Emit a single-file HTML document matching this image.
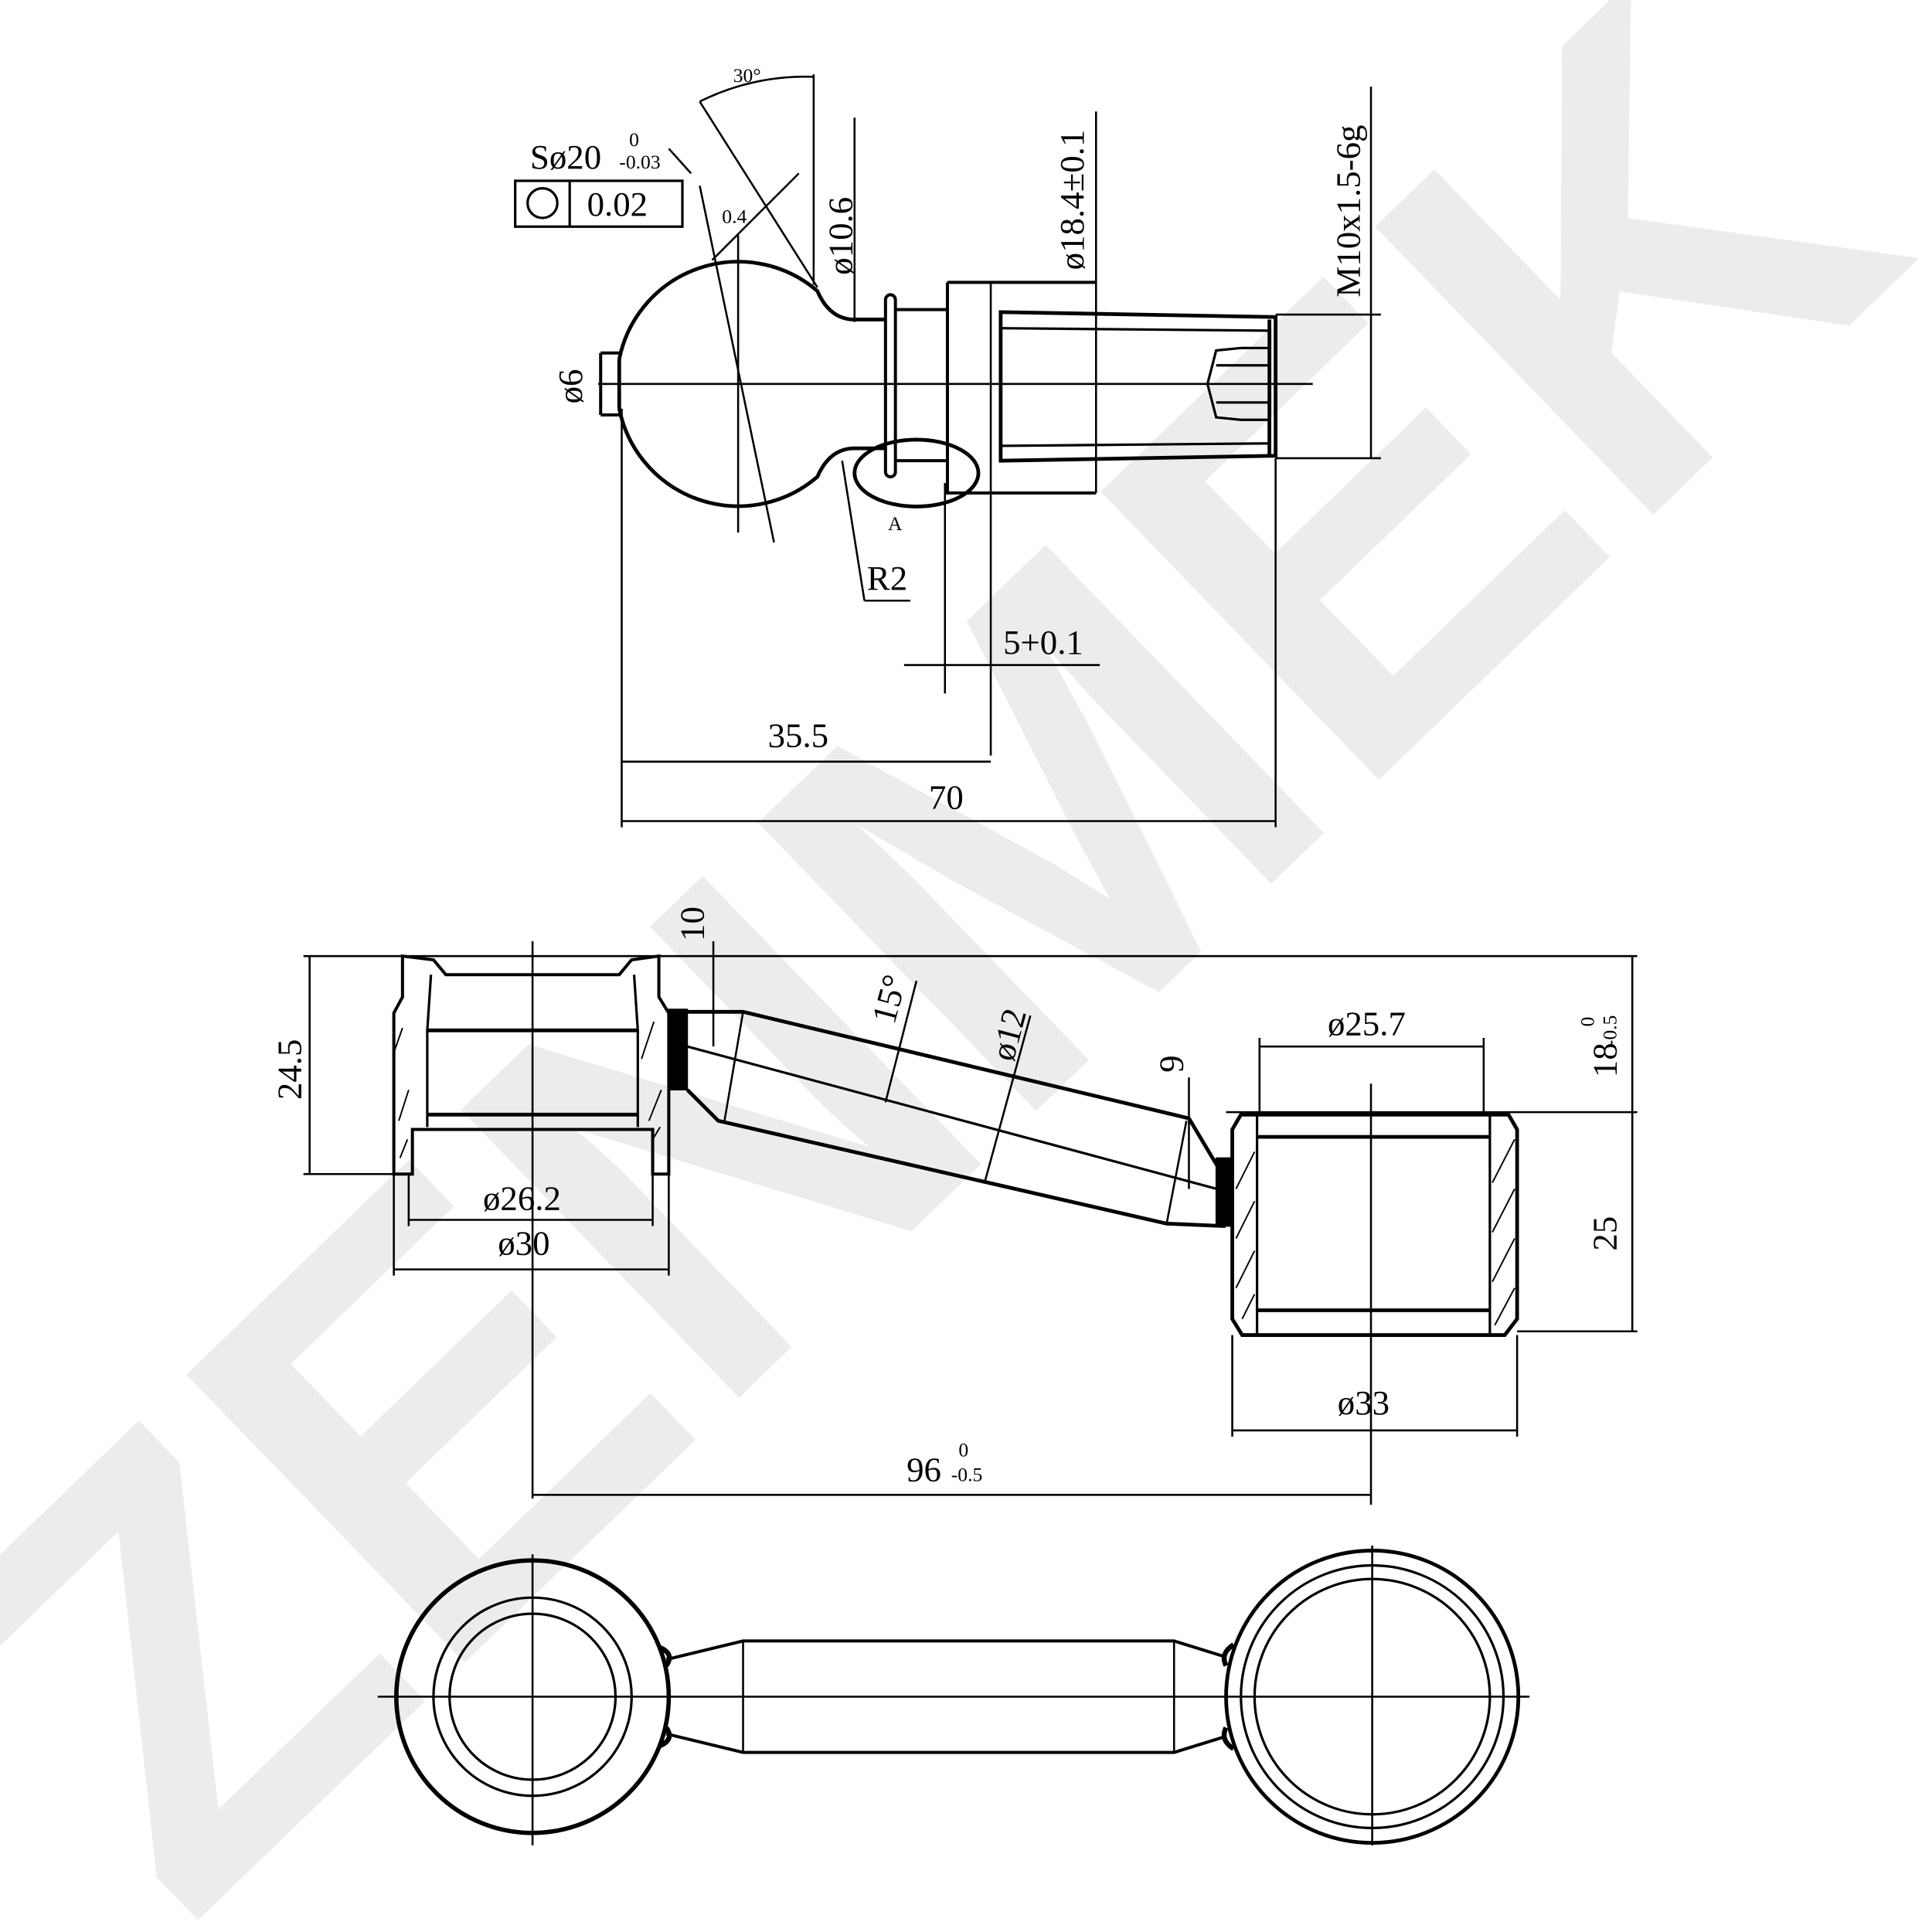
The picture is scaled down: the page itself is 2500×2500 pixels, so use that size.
<!DOCTYPE html>
<html><head><meta charset="utf-8"><style>html,body{margin:0;padding:0;background:#fff}svg{display:block}</style></head>
<body>
<svg width="2500" height="2500" viewBox="0 0 1560 1560" xmlns="http://www.w3.org/2000/svg" font-family="Liberation Serif, serif">
<rect width="1560" height="1560" fill="#fff"/>
<!-- watermark -->
<text x="0" y="0" transform="translate(150,1560) rotate(-44)" font-family="Liberation Sans, sans-serif" font-weight="bold" font-size="470" fill="#ececec" textLength="1950" lengthAdjust="spacingAndGlyphs">ZENMEK</text>

<g stroke="#000" fill="none" stroke-width="1.6">
<!-- ===== TOP VIEW ===== -->
<line x1="483" y1="310" x2="1060" y2="310"/>
<path d="M500,290 A98,98 0 0 1 660,235 Q670,258 690,258 L715,258 M500,330 A98,98 0 0 0 660,385 Q670,362 690,362 L715,362" stroke-width="3"/>
<path d="M500,290 L500,330" stroke-width="3"/>
<path d="M485,285 L500,285 M485,335 L500,335 M485,285 L485,335" stroke-width="2.5"/>
<rect x="715" y="238" width="8" height="147" rx="4" stroke-width="2.5"/>
<path d="M723,250 L765,250 M723,372 L765,372" stroke-width="2.5"/>
<path d="M765,228 L885,228 M765,228 L765,398 L885,398" stroke-width="2.5"/>
<line x1="800" y1="228" x2="800" y2="610"/>
<path d="M808,252 L1030,256 L1030,368 L808,372 Z" stroke-width="3"/>
<path d="M808,265 L1025,267 M808,360 L1025,358" stroke-width="2"/>
<path d="M1025,258 L1025,368" stroke-width="3"/>
<path d="M1002,281 L982,283 L975,310 L982,337 L1002,339 M982,295 L1025,295 M982,325 L1025,325 M1002,281 L1025,281 M1002,339 L1025,339" stroke-width="2"/>
<ellipse cx="740" cy="382" rx="50" ry="27" stroke-width="3"/>
<line x1="723" y1="372" x2="723" y2="380"/>
<!-- dimension lines top -->
<line x1="596" y1="190" x2="596" y2="430"/>
<line x1="565" y1="150" x2="625" y2="438"/>
<line x1="565" y1="82" x2="660" y2="232"/>
<line x1="575" y1="210" x2="645" y2="140"/>
<line x1="657" y1="60" x2="657" y2="230"/>
<path d="M565,82 A190,190 0 0 1 657,62"/>
<line x1="690" y1="95" x2="690" y2="260"/>
<line x1="885" y1="90" x2="885" y2="398"/>
<line x1="1107" y1="70" x2="1107" y2="370"/>
<line x1="1030" y1="254" x2="1115" y2="254"/>
<line x1="1030" y1="370" x2="1115" y2="370"/>
<line x1="680" y1="372" x2="698" y2="485"/>
<line x1="698" y1="485" x2="735" y2="485"/>
<line x1="763" y1="390" x2="763" y2="560"/>
<line x1="730" y1="537" x2="888" y2="537"/>
<line x1="502" y1="330" x2="502" y2="668"/>
<line x1="1030" y1="370" x2="1030" y2="668"/>
<line x1="502" y1="615" x2="800" y2="615"/>
<line x1="502" y1="663" x2="1030" y2="663"/>
<line x1="558" y1="140" x2="540" y2="120" />
<rect x="416" y="146" width="135" height="37" stroke-width="2"/>
<line x1="460" y1="146" x2="460" y2="183" stroke-width="2"/>
<circle cx="438" cy="164" r="12" stroke-width="2"/>
</g>
<g font-size="28" fill="#000">
<text x="428" y="136">Sø20</text>
<text x="508" y="118" font-size="16">0</text>
<text x="500" y="136" font-size="16">-0.03</text>
<text x="474" y="174">0.02</text>
<text x="592" y="66" font-size="16">30°</text>
<text x="583" y="180" font-size="16">0.4</text>
<text transform="translate(688,222) rotate(-90)">ø10.6</text>
<text transform="translate(875,218) rotate(-90)">ø18.4±0.1</text>
<text transform="translate(1098,240) rotate(-90)">M10x1.5-6g</text>
<text transform="translate(470,326) rotate(-90)">ø6</text>
<text x="717" y="428" font-size="16">A</text>
<text x="700" y="476">R2</text>
<text x="810" y="528">5+0.1</text>
<text x="620" y="603">35.5</text>
<text x="750" y="653">70</text>
</g>

<!-- ===== MIDDLE VIEW ===== -->
<g stroke="#000" fill="none" stroke-width="1.6">
<line x1="245" y1="772" x2="1322" y2="772"/>
<line x1="245" y1="948" x2="330" y2="948"/>
<line x1="250" y1="772" x2="250" y2="948"/>
<line x1="430" y1="760" x2="430" y2="1210"/>
<path d="M325,772 L350,775 L360,787 L500,787 L510,775 L532,772 L532,805 L540,818 L540,948 L527,948 L527,912 L333,912 L333,948 L318,948 L318,818 L325,805 Z" stroke-width="2.5"/>
<path d="M348,787 L345,832 L345,910 M512,787 L515,832 L515,910" stroke-width="2"/>
<path d="M345,832 L515,832 M345,900 L515,900" stroke-width="3"/>
<path d="M325,830 L318,850 M330,880 L322,905 M528,825 L518,855 M534,880 L524,905 M527,920 L533,910 M323,935 L329,920" stroke-width="1.2"/>
<line x1="318" y1="1025" x2="540" y2="1025"/>
<line x1="330" y1="985" x2="527" y2="985"/>
<line x1="318" y1="948" x2="318" y2="1030"/>
<line x1="540" y1="948" x2="540" y2="1030"/>
<line x1="330" y1="948" x2="330" y2="990"/>
<line x1="527" y1="948" x2="527" y2="990"/>
<!-- rod -->
<path d="M540,815 L555,815 L555,880 L540,880 Z" fill="#000" stroke-width="1"/>
<path d="M555,817 L600,817 L960,903 L988,950 L988,990 L942,988 L580,905 L555,880" stroke-width="3"/>
<path d="M555,845 L990,962" stroke-width="2"/>
<path d="M600,817 L585,905 M958,905 L942,988" stroke-width="1.6"/>
<line x1="576" y1="760" x2="576" y2="845"/>
<line x1="740" y1="792" x2="715" y2="890"/>
<line x1="832" y1="820" x2="795" y2="955"/>
<line x1="960" y1="870" x2="960" y2="960"/>
<path d="M982,935 L995,935 L995,990 L982,990 Z" fill="#000" stroke-width="1"/>
<!-- right cup -->
<line x1="990" y1="898" x2="1322" y2="898"/>
<line x1="1225" y1="1075" x2="1322" y2="1075"/>
<line x1="1318" y1="772" x2="1318" y2="1075"/>
<path d="M1002,900 L1218,900 L1225,912 L1225,1065 L1215,1078 L1003,1078 L995,1065 L995,912 Z" stroke-width="3"/>
<path d="M1015,900 L1015,1078 M1203,900 L1203,1078" stroke-width="2"/>
<path d="M1015,918 L1203,918 M1015,1058 L1203,1058" stroke-width="3"/>
<path d="M1013,930 L998,960 M1013,970 L998,1000 M1013,1010 L998,1040 M1013,1045 L1003,1065 M1223,920 L1205,955 M1223,960 L1205,995 M1223,1000 L1205,1035 M1223,1040 L1207,1070" stroke-width="1.2"/>
<line x1="1017" y1="845" x2="1198" y2="845"/>
<line x1="1017" y1="838" x2="1017" y2="900"/>
<line x1="1198" y1="838" x2="1198" y2="900"/>
<line x1="1107" y1="875" x2="1107" y2="1215"/>
<line x1="995" y1="1078" x2="995" y2="1160"/>
<line x1="1225" y1="1078" x2="1225" y2="1160"/>
<line x1="995" y1="1155" x2="1225" y2="1155"/>
<line x1="430" y1="1207" x2="1107" y2="1207"/>
</g>
<g font-size="28" fill="#000">
<text transform="translate(568,760) rotate(-90)">10</text>
<text transform="translate(243,888) rotate(-90)">24.5</text>
<text transform="translate(722,828) rotate(-75)">15°</text>
<text transform="translate(818,858) rotate(-75)">ø12</text>
<text transform="translate(955,866) rotate(-90)">9</text>
<text x="1072" y="836">ø25.7</text>
<text transform="translate(1305,870) rotate(-90)">18</text>
<text transform="translate(1287,829) rotate(-90)" font-size="16">0</text>
<text transform="translate(1305,845) rotate(-90)" font-size="16">-0.5</text>
<text transform="translate(1305,1010) rotate(-90)">25</text>
<text x="390" y="977">ø26.2</text>
<text x="402" y="1013">ø30</text>
<text x="1080" y="1142">ø33</text>
<text x="732" y="1196">96</text>
<text x="774" y="1176" font-size="16">0</text>
<text x="768" y="1196" font-size="16">-0.5</text>
</g>

<!-- ===== BOTTOM VIEW ===== -->
<g stroke="#000" fill="none" stroke-width="1.6">
<line x1="305" y1="1370" x2="1235" y2="1370"/>
<line x1="430" y1="1255" x2="430" y2="1490"/>
<line x1="1108" y1="1248" x2="1108" y2="1490"/>
<circle cx="430" cy="1370" r="110" stroke-width="3.5"/>
<circle cx="430" cy="1370" r="80" stroke-width="2"/>
<circle cx="430" cy="1370" r="67" stroke-width="2"/>
<circle cx="1108" cy="1370" r="118" stroke-width="3"/>
<circle cx="1108" cy="1370" r="106" stroke-width="2"/>
<circle cx="1108" cy="1370" r="95" stroke-width="2"/>
<path d="M538,1340 L600,1325 L948,1325 L990,1338 M538,1400 L600,1415 L948,1415 L990,1402" stroke-width="2.5"/>
<path d="M600,1325 L600,1415 M948,1325 L948,1415" stroke-width="1.6"/>
<path d="M532,1330 Q545,1335 538,1345 M532,1410 Q545,1405 538,1395 M996,1328 Q985,1335 990,1345 M996,1412 Q985,1405 990,1395" stroke-width="4"/>
</g>
</svg>
</body></html>
